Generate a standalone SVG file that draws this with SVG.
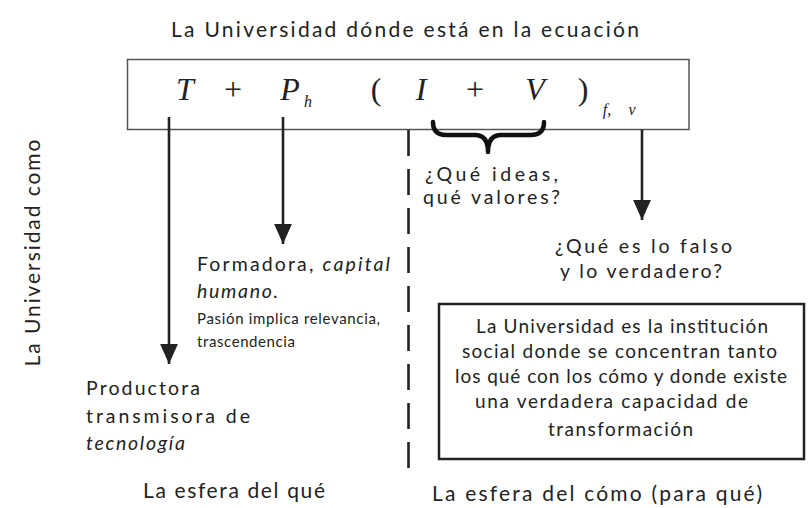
<svg xmlns="http://www.w3.org/2000/svg" width="809" height="508" viewBox="0 0 809 508">
<style>
  .t{font-family:Lato,"Open Sans",sans-serif;fill:#222;}
  .m{font-family:"Liberation Serif","Times New Roman",serif;font-style:italic;fill:#222;}
  .u{font-family:"Liberation Serif","Times New Roman",serif;fill:#222;}
  .ln{stroke:#222;stroke-width:2.6;fill:none;}
  .it{font-style:italic;}
</style>
<defs>
  <marker id="ah" markerUnits="userSpaceOnUse" markerWidth="20" markerHeight="18" refX="18" refY="8" orient="auto" viewBox="0 0 18 16">
    <path d="M0,0 L18,8 L0,16 Z" fill="#222"/>
  </marker>
</defs>
<rect width="809" height="508" fill="#fff"/>

<g id="title">
  <text class="t" x="405" y="37" font-size="21" text-anchor="middle" textLength="468" lengthAdjust="spacing">La Universidad dónde está en la ecuación</text>
</g>

<g id="side-label">
  <text class="t" font-size="21" text-anchor="middle" transform="translate(40,253) rotate(-90)" textLength="227" lengthAdjust="spacing">La Universidad como</text>
</g>

<g id="formula">
  <rect x="127.5" y="59.5" width="561.5" height="70" fill="none" stroke="#555" stroke-width="1.5"/>
  <text class="m" font-size="32" x="185" y="100" text-anchor="middle">T</text>
  <text class="u" font-size="32" x="233" y="100" text-anchor="middle">+</text>
  <text class="m" font-size="32" x="290" y="100" text-anchor="middle">P</text>
  <text class="m" font-size="16" x="308" y="107" text-anchor="middle">h</text>
  <text class="u" font-size="32" x="376" y="100" text-anchor="middle">(</text>
  <text class="m" font-size="32" x="421" y="100" text-anchor="middle">I</text>
  <text class="u" font-size="32" x="475" y="100" text-anchor="middle">+</text>
  <text class="m" font-size="32" x="535" y="100" text-anchor="middle">V</text>
  <text class="u" font-size="32" x="583" y="100" text-anchor="middle">)</text>
  <text class="m" font-size="16" x="607" y="115" text-anchor="middle">f,</text>
  <text class="m" font-size="16" x="632" y="115" text-anchor="middle">v</text>
</g>

<g id="connectors">
  <line class="ln" x1="169" y1="117" x2="169" y2="364" marker-end="url(#ah)"/>
  <line class="ln" x1="283" y1="117" x2="283" y2="244" marker-end="url(#ah)"/>
  <line class="ln" x1="642" y1="129.5" x2="642" y2="220" marker-end="url(#ah)"/>
  <line x1="408.5" y1="130" x2="408.5" y2="468" stroke="#222" stroke-width="2.6" stroke-dasharray="26 13"/>
  <path d="M433,122 Q433,135 446,135 L475,135 Q488,135 488,152 Q488,135 501,135 L531,135 Q544,135 544,122" fill="none" stroke="#111" stroke-width="4.5" stroke-linecap="round" stroke-linejoin="round"/>
</g>

<g id="node-ideas">
  <text class="t" font-size="19.5" x="425" y="181" textLength="133" lengthAdjust="spacing">¿Qué ideas,</text>
  <text class="t" font-size="19.5" x="423" y="204" textLength="137" lengthAdjust="spacing">qué valores?</text>
</g>

<g id="node-falso">
  <text class="t" font-size="19.5" x="555" y="253" textLength="177" lengthAdjust="spacing">¿Qué es lo falso</text>
  <text class="t" font-size="19.5" x="560" y="278" textLength="162" lengthAdjust="spacing">y lo verdadero?</text>
</g>

<g id="node-formadora">
  <text class="t" font-size="19.5" x="197" y="271" textLength="193" lengthAdjust="spacing">Formadora, <tspan class="it">capital</tspan></text>
  <text class="t it" font-size="19.5" x="197" y="298" textLength="81" lengthAdjust="spacing">humano.</text>
  <text class="t" font-size="15" x="197" y="324" textLength="183" lengthAdjust="spacing">Pasión implica relevancia,</text>
  <text class="t" font-size="15" x="197" y="347" textLength="98" lengthAdjust="spacing">trascendencia</text>
</g>

<g id="node-productora">
  <text class="t" font-size="19.5" x="86" y="395" textLength="114" lengthAdjust="spacing">Productora</text>
  <text class="t" font-size="19.5" x="86" y="423" textLength="164" lengthAdjust="spacing">transmisora de</text>
  <text class="t it" font-size="19.5" x="86" y="450" textLength="99" lengthAdjust="spacing">tecnología</text>
</g>

<g id="node-universidad">
  <rect x="439" y="304" width="365" height="155" fill="none" stroke="#222" stroke-width="2.5"/>
  <text class="t" font-size="19" x="622" y="333" text-anchor="middle" textLength="292" lengthAdjust="spacing">La Universidad es la institución</text>
  <text class="t" font-size="19" x="619.5" y="358" text-anchor="middle" textLength="315" lengthAdjust="spacing">social donde se concentran tanto</text>
  <text class="t" font-size="19" x="621" y="383" text-anchor="middle" textLength="332" lengthAdjust="spacing">los qué con los cómo y donde existe</text>
  <text class="t" font-size="19" x="611.5" y="408" text-anchor="middle" textLength="273" lengthAdjust="spacing">una verdadera capacidad de</text>
  <text class="t" font-size="19" x="620.5" y="436" text-anchor="middle" textLength="145" lengthAdjust="spacing">transformación</text>
</g>

<g id="footer">
  <text class="t" font-size="21" x="143" y="498" textLength="182" lengthAdjust="spacing">La esfera del qué</text>
  <text class="t" font-size="21" x="432" y="501" textLength="330" lengthAdjust="spacing">La esfera del cómo (para qué)</text>
</g>
</svg>
